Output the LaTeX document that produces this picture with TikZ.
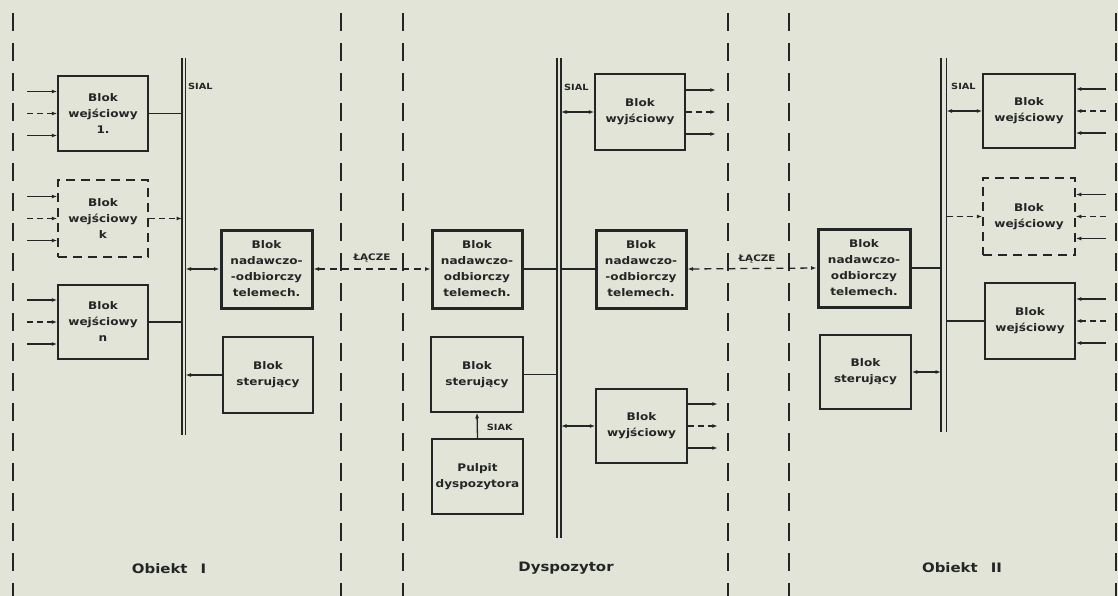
\documentclass[tikz,border=0pt]{standalone}
\usepackage{fontspec}
\newfontfamily\blkfont[FakeStretch=1.15]{DejaVu Sans}
\usetikzlibrary{arrows.meta}
\definecolor{paper}{RGB}{227,228,216}
\definecolor{ink}{RGB}{35,38,38}
\begin{document}
\begin{tikzpicture}[x=1pt,y=-1pt,
  blk/.style={draw=ink, line width=1.5pt, inner sep=0pt, align=center, text=ink,
    font=\blkfont\bfseries\fontsize{10.5}{16}\selectfont, minimum width=90pt, minimum height=75pt},
  thk/.style={blk, line width=3pt, minimum height=78pt},
  dblk/.style={blk, dash pattern=on 9pt off 6pt},
  conn/.style={draw=ink, line width=1.3pt},
  tip/.tip={Latex[length=5.5pt,width=4pt]},
  arr/.style={conn, -tip},
  darr/.style={conn, tip-tip},
  sdash/.style={dash pattern=on 6pt off 4pt},
  bus/.style={draw=ink, line width=1.8pt},
  bound/.style={draw=ink, line width=2.2pt, dash pattern=on 18pt off 12pt},
  small/.style={text=ink, font=\blkfont\bfseries\fontsize{8.5}{10}\selectfont, inner sep=1pt},
  big/.style={text=ink, font=\blkfont\bfseries\fontsize{13}{15}\selectfont}
]
\useasboundingbox (0,0) rectangle (1118,596);
\fill[paper] (0,0) rectangle (1118,596);

% boundaries
\foreach \x in {13,341,403,728,789,1116} \draw[bound] (\x,13) -- (\x,596);

% buses
\draw[bus] (182,58) -- (182,435);
\draw[bus] (185.5,58) -- (185.5,435);
\draw[bus] (557,58) -- (557,538);
\draw[bus] (561,58) -- (561,538);
\draw[bus] (941,58) -- (941,432);
\draw[bus] (946.5,58) -- (946.5,432);
\coordinate (bL1) at (182,0);
\coordinate (bL2) at (185.5,0);
\coordinate (bM1) at (557,0);
\coordinate (bM2) at (561,0);
\coordinate (bR1) at (941,0);
\coordinate (bR2) at (946.5,0);

\node[small, anchor=west] (sialL) at (187,86) {SIAL};
\node[small, anchor=west] (sialM) at (563,87) {SIAL};
\node[small, anchor=west] (sialR) at (950,86) {SIAL};

% left section
\node[blk] (w1) at (103,113.5) {Blok\\wejściowy\\1.};
\node[dblk, minimum height=77pt] (wk) at (103,218.5) {Blok\\wejściowy\\k};
\node[blk, minimum height=74pt] (wn) at (103,322) {Blok\\wejściowy\\n};
\node[thk, minimum width=91pt] (nL) at (266.5,269) {Blok\\nadawczo-\\-odbiorczy\\telemech.};
\node[blk, minimum height=76pt] (sL) at (268,375) {Blok\\sterujący};

% middle section
\node[blk, minimum height=76pt] (wyT) at (640,112) {Blok\\wyjściowy};
\node[thk] (nM1) at (477,269) {Blok\\nadawczo-\\odbiorczy\\telemech.};
\node[thk] (nM2) at (641,269) {Blok\\nadawczo-\\-odbiorczy\\telemech.};
\node[blk, minimum width=92pt] (sM) at (477,374.5) {Blok\\sterujący};
\node[blk, minimum width=91pt] (pM) at (477.5,476.5) {Pulpit\\dyspozytora};
\node[blk, minimum width=91pt, minimum height=74pt] (wyB) at (641.5,426) {Blok\\wyjściowy};

% right section
\node[blk, minimum width=92pt, minimum height=74pt] (wR1) at (1029,111) {Blok\\wejściowy};
\node[dblk, minimum width=92pt, minimum height=77pt] (wR2) at (1029,216.5) {Blok\\wejściowy};
\node[blk, minimum height=76pt] (wR3) at (1030,321) {Blok\\wejściowy};
\node[thk, minimum width=92pt] (nR) at (864,268) {Blok\\nadawczo-\\odbiorczy\\telemech.};
\node[blk, minimum width=91pt, minimum height=74pt] (sR) at (865.5,372) {Blok\\sterujący};

% inputs / outputs
\foreach \n in {w1,wk,wn} {
  \draw[arr] ([shift={(-30,-22)}]\n.west) -- ([shift={(0,-22)}]\n.west);
  \draw[arr,sdash] ([shift={(-30,0)}]\n.west) -- (\n.west);
  \draw[arr] ([shift={(-30,22)}]\n.west) -- ([shift={(0,22)}]\n.west);
}
\foreach \n in {wR1,wR2,wR3} {
  \draw[arr] ([shift={(30,-22)}]\n.east) -- ([shift={(0,-22)}]\n.east);
  \draw[arr,sdash] ([shift={(30,0)}]\n.east) -- (\n.east);
  \draw[arr] ([shift={(30,22)}]\n.east) -- ([shift={(0,22)}]\n.east);
}
\foreach \n in {wyT,wyB} {
  \draw[arr] ([shift={(0,-22)}]\n.east) -- ([shift={(30,-22)}]\n.east);
  \draw[arr,sdash] (\n.east) -- ([shift={(30,0)}]\n.east);
  \draw[arr] ([shift={(0,22)}]\n.east) -- ([shift={(30,22)}]\n.east);
}

% bus connectors
\draw[conn] (w1.east) -- (w1.east -| bL1);
\draw[arr,sdash] (wk.east) -- (wk.east -| bL1);
\draw[conn] (wn.east) -- (wn.east -| bL1);
\draw[darr] (nL.west) -- (nL.west -| bL2);
\draw[arr] (sL.west) -- (sL.west -| bL2);

\draw[conn] (nM1.east) -- (nM1.east -| bM1);
\draw[conn] (sM.east) -- (sM.east -| bM1);
\draw[arr] (pM.north) -- node[small, anchor=west, xshift=8pt, yshift=-2pt] (siak) {SIAK} (sM.south);
\draw[darr] (wyT.west) -- (wyT.west -| bM2);
\draw[conn] (nM2.west) -- (nM2.west -| bM2);
\draw[darr] (wyB.west) -- (wyB.west -| bM2);

\draw[conn] (nR.east) -- (nR.east -| bR1);
\draw[darr] (sR.east) -- (sR.east -| bR1);
\draw[darr] (wR1.west) -- (wR1.west -| bR2);
\draw[arr,sdash] (wR2.west -| bR2) -- (wR2.west);
\draw[conn] (wR3.west) -- (wR3.west -| bR2);

% links
\draw[darr, dash pattern=on 7pt off 5pt] (nL.east) -- (nM1.west);
\node[small, font=\blkfont\bfseries\fontsize{9}{10}\selectfont] (lacze1) at (372,258) {ŁĄCZE};
\draw[darr, dash pattern=on 7pt off 5pt] (nM2.east) -- (nR.west);
\node[small, font=\blkfont\bfseries\fontsize{9}{10}\selectfont] (lacze2) at (757,259) {ŁĄCZE};

% section labels
\node[big] (ob1) at (169,569) {Obiekt\quad I};
\node[big] (dys) at (566,568) {Dyspozytor};
\node[big] (ob2) at (962,568) {Obiekt\quad II};
\end{tikzpicture}
\end{document}
